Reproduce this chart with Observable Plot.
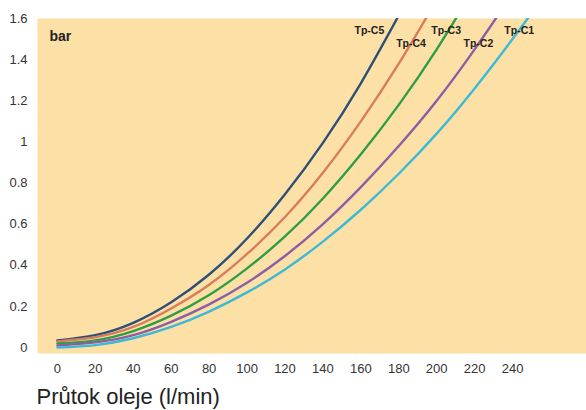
<!DOCTYPE html>
<html>
<head>
<meta charset="utf-8">
<script src="https://cdn.jsdelivr.net/npm/d3@7"></script>
<script src="https://cdn.jsdelivr.net/npm/@observablehq/plot@0.6"></script>
<style>
  html, body { margin: 0; padding: 0; background: #fff; }
  #chart { width: 586px; height: 410px; }
</style>
</head>
<body>
<div id="chart"></div>
<script>
// Flow (l/min)
const flow = [0, 20, 40, 60, 80, 100, 120, 140, 160, 180, 200, 220, 240, 260];
// Pressure drop (bar) per series
const tpC5 = [0.035, 0.06, 0.12, 0.22, 0.355, 0.53, 0.745, 0.995, 1.285, 1.615];
const tpC4 = [0.03, 0.05, 0.10, 0.19, 0.305, 0.455, 0.635, 0.85, 1.10, 1.38, 1.69];
const tpC3 = [0.02, 0.035, 0.08, 0.155, 0.255, 0.385, 0.54, 0.725, 0.94, 1.18, 1.45, 1.75];
const tpC2 = [0.01, 0.025, 0.06, 0.125, 0.21, 0.315, 0.445, 0.60, 0.78, 0.98, 1.20, 1.45, 1.72];
const tpC1 = [0.0, 0.012, 0.045, 0.10, 0.175, 0.268, 0.38, 0.515, 0.67, 0.845, 1.04, 1.26, 1.50, 1.75];

const seriesNames = ["Tp-C5", "Tp-C4", "Tp-C3", "Tp-C2", "Tp-C1"];
const seriesValues = [tpC5, tpC4, tpC3, tpC2, tpC1];
const seriesColors = ["#2d4f78", "#d97c5c", "#2e9e45", "#8b5ea6", "#3cb9d6"];
// label anchor positions (flow, bar)
const labelFlow = [164.5, 186.5, 205, 222, 243.5];
const labelBar = [1.539, 1.476, 1.539, 1.476, 1.539];

const xTicks = [0, 20, 40, 60, 80, 100, 120, 140, 160, 180, 200, 220, 240];
const yTicks = [0, 0.2, 0.4, 0.6, 0.8, 1, 1.2, 1.4, 1.6];

const rows = [];
seriesNames.forEach((name, i) => {
  seriesValues[i].forEach((v, j) => rows.push({series: name, flow: flow[j], bar: v}));
});
const labels = seriesNames.map((name, i) => ({series: name, flow: labelFlow[i], bar: labelBar[i]}));

const chart = Plot.plot({
  width: 586,
  height: 410,
  marginLeft: 37,
  marginRight: 0,
  marginTop: 18,
  marginBottom: 57,
  style: {fontFamily: "'Liberation Sans', Arial, sans-serif", fontSize: "13px", color: "#333", background: "transparent"},
  x: {domain: [-10.5, 279], ticks: xTicks, tickSize: 0, tickPadding: 10, label: null},
  y: {domain: [-0.029, 1.6], ticks: yTicks, tickSize: 0, tickPadding: 10, label: null, tickFormat: d3.format("~g")},
  color: {domain: seriesNames, range: seriesColors},
  marks: [
    Plot.frame({fill: "#fde0a6", stroke: null}),
    Plot.line(rows, {x: "flow", y: "bar", z: "series", stroke: "series", strokeWidth: 2.4, curve: "natural", clip: true}),
    Plot.text(labels, {x: "flow", y: "bar", text: "series", fontWeight: "bold", fontSize: 10.5, fill: "#222"}),
    Plot.text(["bar"], {frameAnchor: "top-left", dx: 12, dy: 13, fontWeight: "bold", fontSize: 14, fill: "#222"}),
    Plot.text(["Průtok oleje (l/min)"], {frameAnchor: "bottom-left", dx: -1, dy: 50, fontSize: 22, fill: "#222", textAnchor: "start"})
  ]
});
document.getElementById("chart").appendChild(chart);
</script>
</body>
</html>
